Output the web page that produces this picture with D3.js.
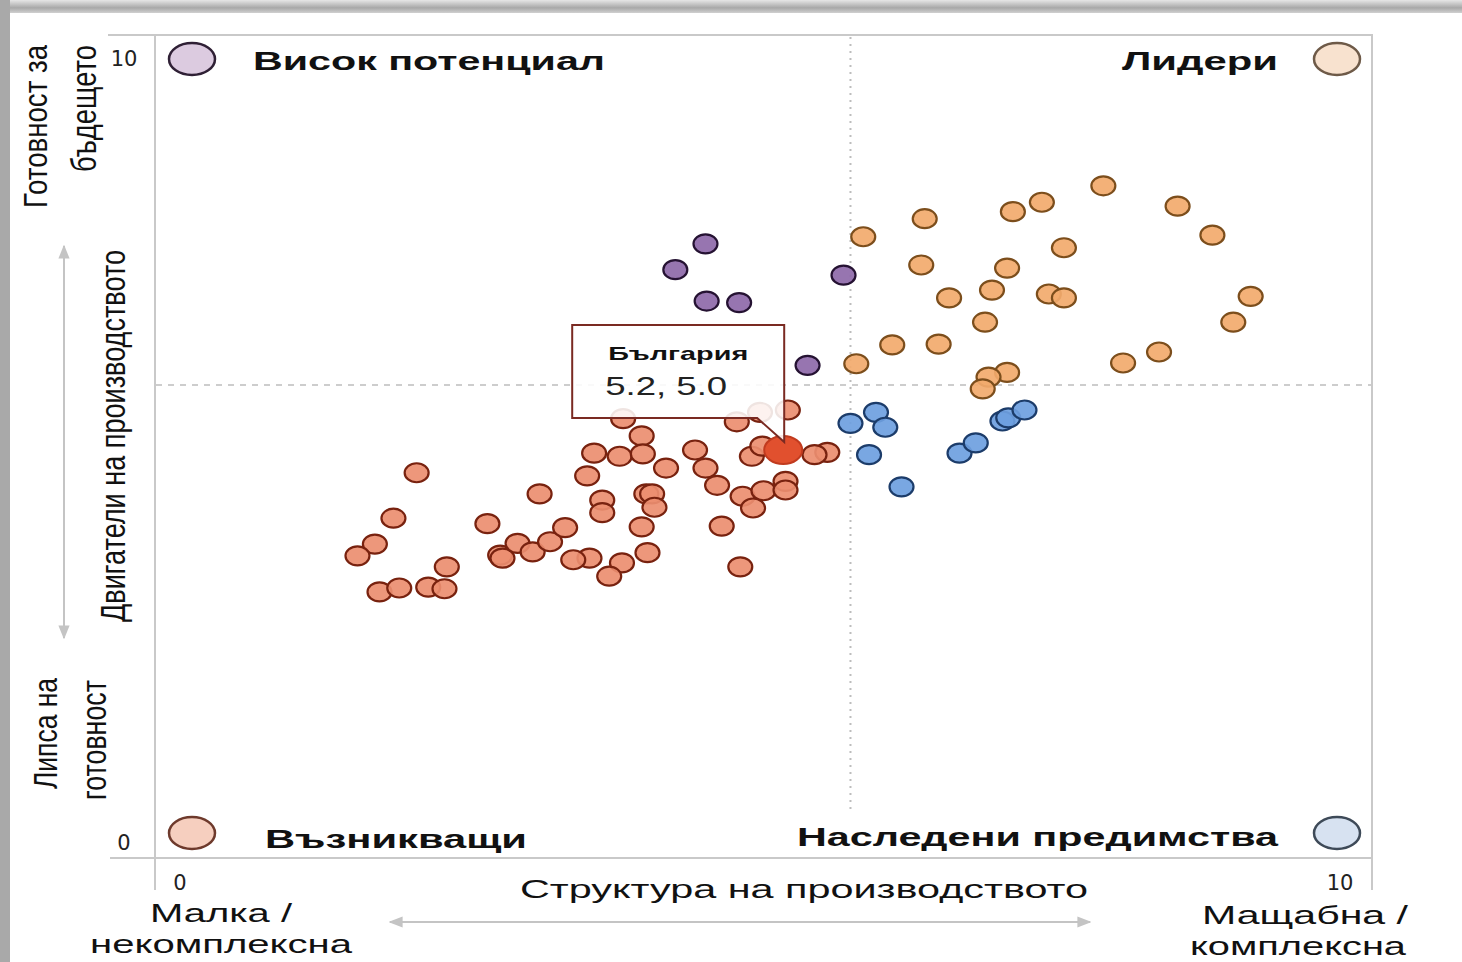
<!DOCTYPE html>
<html>
<head>
<meta charset="utf-8">
<script src="https://cdn.jsdelivr.net/npm/d3@7"></script>
<style>
  body { margin: 0; background: #fff; }
  svg { display: block; font-family: "Liberation Sans", Arial, sans-serif; }
</style>
</head>
<body>
<svg id="chart" width="1462" height="962"></svg>
<script>
// quadrant groups, values as [structure, drivers]
const emerging = [
  [2.04, 4.71], [1.84, 4.13], [1.68, 3.80], [1.53, 3.65], [2.30, 3.51], [1.72, 3.19],
  [1.89, 3.24], [2.14, 3.25], [2.28, 3.23], [2.65, 4.06], [3.10, 4.44], [2.76, 3.66],
  [2.78, 3.62], [2.91, 3.81], [3.04, 3.70], [3.19, 3.83], [3.32, 4.01], [5.24, 5.51],
  [4.80, 5.36], [3.82, 5.40], [3.98, 5.18], [3.57, 4.96], [3.79, 4.92], [3.99, 4.95],
  [3.51, 4.67], [4.19, 4.77], [4.44, 5.00], [4.53, 4.77], [4.63, 4.55], [4.85, 4.41],
  [5.03, 4.48], [5.22, 4.60], [5.22, 4.49], [4.94, 4.26], [3.64, 4.36], [3.64, 4.20],
  [4.02, 4.44], [4.07, 4.44], [4.09, 4.27], [3.98, 4.02], [4.67, 4.03], [4.03, 3.69],
  [3.81, 3.56], [3.70, 3.39], [3.53, 3.62], [3.39, 3.60], [4.83, 3.51], [4.93, 4.92],
  [5.02, 5.05], [5.58, 4.97], [5.47, 4.94], [5.00, 5.48]
];
const highPotential = [
  [4.53, 7.63], [4.27, 7.30], [4.54, 6.90], [4.82, 6.88], [5.72, 7.23], [5.41, 6.08]
];
const leaders = [
  [5.89, 7.72], [6.42, 7.95], [7.18, 8.04], [7.43, 8.16], [7.96, 8.37], [8.60, 8.11],
  [8.90, 7.74], [7.62, 7.58], [6.39, 7.36], [7.13, 7.32], [6.63, 6.94], [7.00, 7.04],
  [7.49, 6.99], [7.62, 6.94], [9.23, 6.96], [9.08, 6.63], [6.94, 6.63], [6.14, 6.34],
  [6.54, 6.35], [5.83, 6.10], [8.44, 6.25], [8.13, 6.11], [7.13, 5.99], [6.97, 5.93],
  [6.92, 5.78]
];
const legacy = [
  [6.00, 5.48], [5.78, 5.34], [6.08, 5.29], [5.94, 4.94], [6.22, 4.53], [6.72, 4.96],
  [6.86, 5.09], [7.09, 5.37], [7.14, 5.41], [7.28, 5.51]
];
const bulgaria = [5.2, 5.0];
const bulgariaName = "България";
const dividers = [5.78, 5.83];
const xTicks = [0, 10];
const yTicks = [0, 10];

const svg = d3.select("#chart");

const x = d3.scaleLinear().domain([0, 10]).range([180, 1340]);
const y = d3.scaleLinear().domain([0, 10]).range([842, 58]);

// screenshot edge shadow
const defs = svg.append("defs");
const grad = defs.append("linearGradient")
  .attr("id", "topShade").attr("x1", 0).attr("x2", 0).attr("y1", 0).attr("y2", 1);
grad.append("stop").attr("offset", "0%").attr("stop-color", "#e6e6e6");
grad.append("stop").attr("offset", "60%").attr("stop-color", "#a8a8a8");
grad.append("stop").attr("offset", "100%").attr("stop-color", "#d0d0d0");
svg.append("rect").attr("x", 0).attr("y", 0).attr("width", 1462).attr("height", 13).attr("fill", "url(#topShade)");
svg.append("rect").attr("x", 0).attr("y", 0).attr("width", 10).attr("height", 962).attr("fill", "#a9a9a9");

// frame
const frame = svg.append("g").attr("stroke", "#c9c9c9").attr("stroke-width", 2);
frame.append("line").attr("x1", 108).attr("x2", 1373).attr("y1", 35).attr("y2", 35);
frame.append("line").attr("x1", 110).attr("x2", 1373).attr("y1", 858).attr("y2", 858);
frame.append("line").attr("x1", 155).attr("x2", 155).attr("y1", 35).attr("y2", 890);
frame.append("line").attr("x1", 1372).attr("x2", 1372).attr("y1", 35).attr("y2", 890);

// quadrant dividers
svg.append("line")
  .attr("x1", x(dividers[0])).attr("x2", x(dividers[0]))
  .attr("y1", 37).attr("y2", 812)
  .attr("stroke", "#bdbdbd").attr("stroke-width", 2).attr("stroke-dasharray", "2,5");
svg.append("line")
  .attr("x1", 156).attr("x2", 1371)
  .attr("y1", y(dividers[1])).attr("y2", y(dividers[1]))
  .attr("stroke", "#bdbdbd").attr("stroke-width", 1.5).attr("stroke-dasharray", "6,6");

// tick labels
svg.selectAll(".ytick").data(yTicks).join("text")
  .attr("x", 124).attr("y", d => y(d) + 8)
  .attr("text-anchor", "middle").attr("font-family", "'DejaVu Sans', sans-serif")
  .attr("font-size", 21).attr("fill", "#222")
  .text(d => d);
svg.selectAll(".xtick").data(xTicks).join("text")
  .attr("x", d => x(d)).attr("y", 890)
  .attr("text-anchor", "middle").attr("font-family", "'DejaVu Sans', sans-serif")
  .attr("font-size", 21).attr("fill", "#222")
  .text(d => d);

// quadrant labels with legend circles
const quadrants = [
  { name: "Висок потенциал", cx: 192, cy: 59, tx: 253, ty: 70, anchor: "start", len: 352, fill: "#dccbe0", stroke: "#2f2035" },
  { name: "Лидери", cx: 1337, cy: 59, tx: 1278, ty: 70, anchor: "end", len: 156, fill: "#f8e2cf", stroke: "#6e5a48" },
  { name: "Възникващи", cx: 192, cy: 833, tx: 265, ty: 848, anchor: "start", len: 262, fill: "#f6cfbf", stroke: "#6e3a2c" },
  { name: "Наследени предимства", cx: 1337, cy: 833, tx: 1278, ty: 846, anchor: "end", len: 481, fill: "#d7e2f1", stroke: "#3e4a58" }
];
svg.selectAll(".legend").data(quadrants).join("ellipse")
  .attr("cx", d => d.cx).attr("cy", d => d.cy).attr("rx", 23).attr("ry", 16)
  .attr("fill", d => d.fill).attr("stroke", d => d.stroke).attr("stroke-width", 2.5);
svg.selectAll(".qlabel").data(quadrants).join("text")
  .attr("x", d => d.tx).attr("y", d => d.ty)
  .attr("text-anchor", d => d.anchor)
  .attr("font-size", 26).attr("font-weight", "bold").attr("fill", "#111")
  .attr("textLength", d => d.len).attr("lengthAdjust", "spacingAndGlyphs")
  .text(d => d.name);

// points
const groups = [
  { data: emerging, fill: "#ec8e70", stroke: "#78220f" },
  { data: legacy, fill: "#6e9fe0", stroke: "#1c3c6a" },
  { data: leaders, fill: "#f2aa6c", stroke: "#7c4e1c" },
  { data: highPotential, fill: "#8e69a9", stroke: "#251232" }
];
groups.forEach(g => {
  svg.append("g").selectAll("ellipse").data(g.data).join("ellipse")
    .attr("cx", d => x(d[0])).attr("cy", d => y(d[1]))
    .attr("rx", 12).attr("ry", 9.5)
    .attr("fill", g.fill).attr("fill-opacity", 0.92)
    .attr("stroke", g.stroke).attr("stroke-width", 2.2);
});

// Bulgaria highlight
const bx = x(bulgaria[0]), by = y(bulgaria[1]);
svg.append("ellipse")
  .attr("cx", bx).attr("cy", by).attr("rx", 19).attr("ry", 14)
  .attr("fill", "#e1502e").attr("stroke", "#c13b1f").attr("stroke-width", 2);

// callout box
const bl = bx - 211, br = bx + 1, bt = by - 125, bb = by - 32;
svg.append("path")
  .attr("d", `M${bl},${bt} H${br} V${by - 8} L${br - 27},${bb} H${bl} Z`)
  .attr("fill", "#fff").attr("fill-opacity", 0.88)
  .attr("stroke", "#7a2a22").attr("stroke-width", 2);
svg.append("text")
  .attr("x", bl + 106).attr("y", bt + 35)
  .attr("text-anchor", "middle").attr("font-size", 19).attr("font-weight", "bold").attr("fill", "#111")
  .attr("textLength", 140).attr("lengthAdjust", "spacingAndGlyphs")
  .text(bulgariaName);
svg.append("text")
  .attr("x", bl + 33).attr("y", bt + 70)
  .attr("font-size", 25).attr("fill", "#222")
  .attr("textLength", 122).attr("lengthAdjust", "spacingAndGlyphs")
  .text(`${bulgaria[0].toFixed(1)}, ${bulgaria[1].toFixed(1)}`);

// arrow marker
defs.append("marker")
  .attr("id", "arr").attr("viewBox", "0 0 10 10").attr("refX", 9).attr("refY", 5)
  .attr("markerWidth", 7).attr("markerHeight", 7).attr("orient", "auto-start-reverse")
  .append("path").attr("d", "M0,1 L10,5 L0,9 Z").attr("fill", "#c4c4c4");

// x axis title and arrow
svg.append("text")
  .attr("x", 804).attr("y", 898).attr("text-anchor", "middle")
  .attr("font-size", 25).attr("fill", "#111")
  .attr("textLength", 568).attr("lengthAdjust", "spacingAndGlyphs")
  .text("Структура на производството");
svg.append("line")
  .attr("x1", 390).attr("x2", 1090).attr("y1", 922).attr("y2", 922)
  .attr("stroke", "#c4c4c4").attr("stroke-width", 2)
  .attr("marker-start", "url(#arr)").attr("marker-end", "url(#arr)");

const xEnds = [
  { t: "Малка /", x: 221, y: 922, len: 142 },
  { t: "некомплексна", x: 221, y: 953, len: 262 },
  { t: "Мащабна /", x: 1305, y: 924, len: 206 },
  { t: "комплексна", x: 1298, y: 955, len: 216 }
];
svg.selectAll(".xend").data(xEnds).join("text")
  .attr("x", d => d.x).attr("y", d => d.y).attr("text-anchor", "middle")
  .attr("font-size", 26).attr("fill", "#111")
  .attr("textLength", d => d.len).attr("lengthAdjust", "spacingAndGlyphs")
  .text(d => d.t);

// y axis rotated labels and arrow
const yLabels = [
  { t: "Готовност за", x: 47, y0: 208, len: 163, size: 33 },
  { t: "бъдещето", x: 96, y0: 172, len: 127, size: 35 },
  { t: "Двигатели на производството", x: 125, y0: 622, len: 372, size: 35 },
  { t: "Липса на", x: 57, y0: 789, len: 111, size: 34 },
  { t: "готовност", x: 106, y0: 800, len: 120, size: 35 }
];
svg.selectAll(".ylab").data(yLabels).join("text")
  .attr("transform", d => `translate(${d.x},${d.y0}) rotate(-90)`)
  .attr("font-family", "'Liberation Sans Narrow', 'Liberation Sans', sans-serif")
  .attr("font-size", d => d.size).attr("fill", "#111")
  .attr("textLength", d => d.len).attr("lengthAdjust", "spacingAndGlyphs")
  .text(d => d.t);
svg.append("line")
  .attr("x1", 64).attr("x2", 64).attr("y1", 638).attr("y2", 246)
  .attr("stroke", "#c4c4c4").attr("stroke-width", 2)
  .attr("marker-start", "url(#arr)").attr("marker-end", "url(#arr)");
</script>
</body>
</html>
